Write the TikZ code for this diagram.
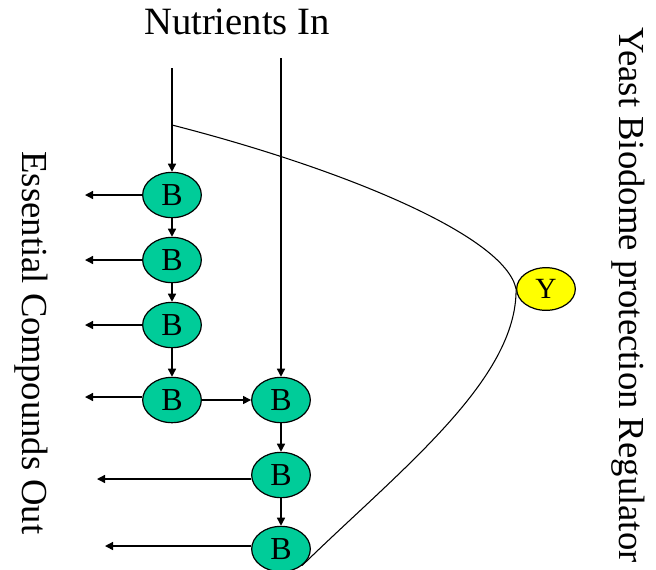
\documentclass[tikz,border=0pt]{standalone}
\usepackage{fontspec}
\setmainfont{Liberation Serif}
\usetikzlibrary{shapes.geometric,arrows.meta}
\definecolor{bgreen}{RGB}{0,204,153}
\definecolor{yyellow}{RGB}{255,255,0}
\begin{document}
\begin{tikzpicture}[x=0.75pt,y=-0.75pt,
  bnode/.style={ellipse,draw=black,line width=0.9pt,fill=bgreen,minimum width=44pt,minimum height=34pt,inner sep=0pt,font=\fontsize{24}{26}\selectfont},
  ynode/.style={ellipse,draw=black,line width=0.9pt,fill=yyellow,minimum width=44pt,minimum height=32pt,inner sep=0pt,font=\fontsize{22}{24}\selectfont},
  arr/.style={line width=1pt,-{Triangle[length=6pt,width=6pt]}},
  thin line/.style={line width=0.8pt}]
\useasboundingbox (0,0) rectangle (656,569);
% nodes
\node[bnode] (b1) at (172,195) {B};
\node[bnode] (b2) at (172,260) {B};
\node[bnode] (b3) at (172,325) {B};
\node[bnode] (b4) at (172,400) {B};
\node[bnode] (b5) at (281,400) {B};
\node[bnode] (b6) at (281,475) {B};
\node[bnode] (b7) at (281,549) {B};
\node[ynode] (y) at (546,289) {Y};
% texts
\node[font=\fontsize{29}{31}\selectfont] (nin) at (237,22) {Nutrients In};
\node[font=\fontsize{27.5}{30}\selectfont,rotate=-90] (ybr) at (628,295) {Yeast Biodome protection Regulator};
\node[font=\fontsize{27.5}{30}\selectfont,rotate=-90] (eco) at (31,343) {Essential Compounds Out};
% input coordinates
\coordinate (in1) at (172,68);
\coordinate (in2) at (281,58);
\coordinate (split) at (172,125);
% outputs
\coordinate (o1) at (85,195);
\coordinate (o2) at (85,260);
\coordinate (o3) at (85,325);
\coordinate (o4) at (85,397);
\coordinate (o6) at (97,479);
\coordinate (o7) at (105,546);
% connectors
\draw[arr] (in1) -- (b1.north);
\draw[arr] (in2) -- (b5.north);
\draw[arr] (b1) -- (b2);
\draw[arr] (b2) -- (b3);
\draw[arr] (b3) -- (b4);
\draw[arr] (b4) -- (b5);
\draw[arr] (b5) -- (b6);
\draw[arr] (b6) -- (b7);
\draw[arr] (b1.west) -- (o1);
\draw[arr] (b2.west) -- (o2);
\draw[arr] (b3.west) -- (o3);
\draw[arr] (b4.west |- o4) -- (o4);
\draw[arr] (b6.west |- o6) -- (o6);
\draw[arr] (b7.west |- o7) -- (o7);
% regulator curve
\draw[thin line] (split) .. controls (340,168) and (505,235) .. (y.west)
  .. controls (517,380) and (400,470) .. (b7.south east);
\end{tikzpicture}
\end{document}
